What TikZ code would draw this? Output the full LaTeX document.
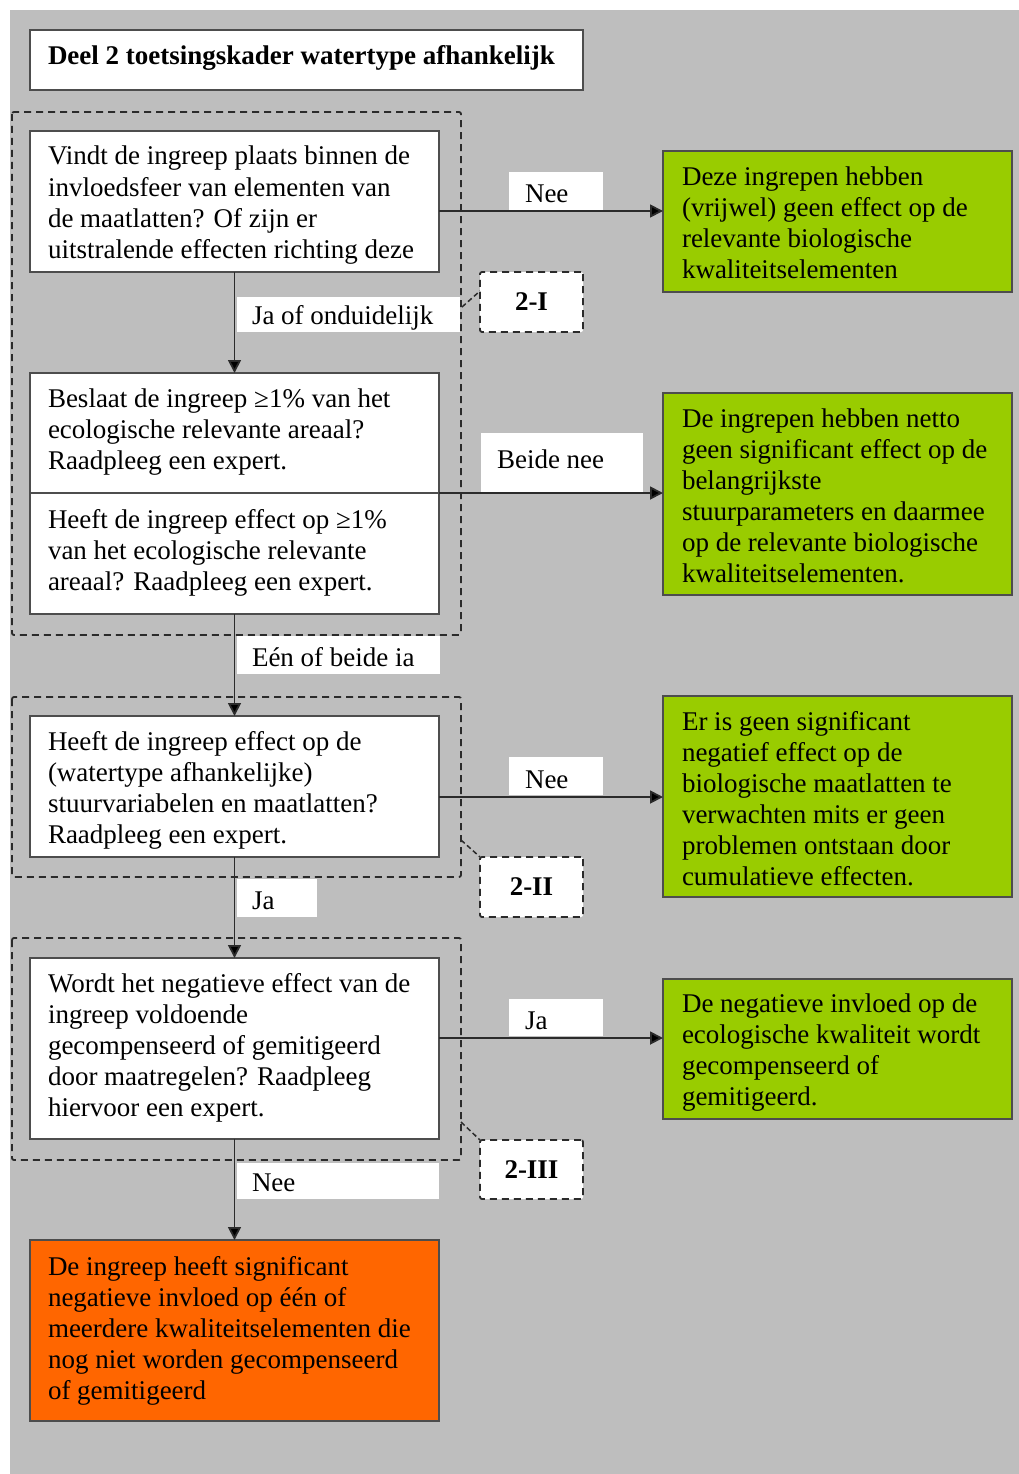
\documentclass[tikz,border=0pt]{standalone}
\usepackage{fontspec}
\setmainfont{Liberation Serif}
\usetikzlibrary{arrows.meta}
\definecolor{bggray}{HTML}{BEBEBE}
\definecolor{boxline}{HTML}{4D4D4D}
\definecolor{greenbox}{HTML}{99CC00}
\definecolor{orangebox}{HTML}{FF6600}
\definecolor{arrline}{HTML}{2B2B2B}
\newcommand{\firststrut}{\rule{0pt}{22pt}}
\begin{document}
\begin{tikzpicture}[x=1pt,y=-1pt,
  qbox/.style={draw=boxline,line width=1.8pt,fill=white,inner sep=0pt,outer sep=0pt,anchor=north west},
  gbox/.style={qbox,fill=greenbox},
  obox/.style={qbox,fill=orangebox},
  grp/.style={draw=arrline,line width=1.8pt,dash pattern=on 7pt off 5pt,rounded corners=2pt},
  lbl/.style={fill=white,inner sep=0pt,outer sep=0pt,anchor=north west},
  tag/.style={draw=arrline,line width=1.8pt,dash pattern=on 7pt off 5pt,fill=white,inner sep=0pt,outer sep=0pt,anchor=north west,rounded corners=2pt,font=\fontsize{27}{31}\selectfont\bfseries},
  txt/.style={anchor=north west,inner sep=0pt,outer sep=0pt,align=left,font=\fontsize{27}{31}\selectfont},
  arr/.style={draw=arrline,line width=1.8pt,-{Triangle[length=13pt,width=13pt,fill=black]}},
  call/.style={draw=arrline,line width=1.5pt,dash pattern=on 5pt off 3pt}
]
\useasboundingbox (0,0) rectangle (1019,1474);
\fill[bggray] (10,10) rectangle (1019,1474);

% title
\node[qbox,minimum width=553pt,minimum height=60pt] (title) at (30,30) {};
\node[txt,font=\fontsize{27}{31}\selectfont\bfseries] (titletxt) at (48,43) {\firststrut Deel 2 toetsingskader watertype afhankelijk};

% dashed groups
\draw[grp] (12,112) rectangle (461,635);
\draw[grp] (12,697) rectangle (461,877);
\draw[grp] (12,938) rectangle (461,1160);

% question boxes
\node[qbox,minimum width=409pt,minimum height=141pt] (A) at (30,131) {};
\node[qbox,minimum width=409pt,minimum height=120pt] (B1) at (30,373) {};
\node[qbox,minimum width=409pt,minimum height=121pt] (B2) at (30,493) {};
\node[qbox,minimum width=409pt,minimum height=141pt] (C) at (30,716) {};
\node[qbox,minimum width=409pt,minimum height=181pt] (D) at (30,958) {};
\node[obox,minimum width=409pt,minimum height=181pt] (E) at (30,1240) {};

% result boxes
\node[gbox,minimum width=349pt,minimum height=141pt] (G1) at (663,151) {};
\node[gbox,minimum width=349pt,minimum height=202pt] (G2) at (663,393) {};
\node[gbox,minimum width=349pt,minimum height=201pt] (G3) at (663,696) {};
\node[gbox,minimum width=349pt,minimum height=140pt] (G4) at (663,979) {};

% label backgrounds
\node[lbl,minimum width=94pt,minimum height=39pt] (L1) at (509,172) {};
\node[lbl,minimum width=223pt,minimum height=35pt] (L2) at (237,297) {};
\node[lbl,minimum width=162pt,minimum height=59pt] (L3) at (481,433) {};
\node[lbl,minimum width=203pt,minimum height=38pt] (L4) at (237,636) {};
\node[lbl,minimum width=94pt,minimum height=38pt] (L5) at (509,757) {};
\node[lbl,minimum width=80pt,minimum height=38pt] (L6) at (237,879) {};
\node[lbl,minimum width=94pt,minimum height=37pt] (L7) at (509,999) {};
\node[lbl,minimum width=202pt,minimum height=36pt] (L8) at (237,1163) {};

% tags
\node[tag,minimum width=103pt,minimum height=60pt] (T1) at (480,272) {2-I};
\node[tag,minimum width=103pt,minimum height=60pt] (T2) at (480,857) {2-II};
\node[tag,minimum width=103pt,minimum height=59pt] (T3) at (480,1140) {2-III};
\coordinate (c1) at (462,307);
\coordinate (c2) at (461,840);
\coordinate (c3) at (461,1122);
\draw[call] (c1) -- (T1.west |- 0,291);
\draw[call] (c2) -- (T2.north west);
\draw[call] (c3) -- (T3.north west);

% arrows
\draw[arr] (A.east |- 0,211) -- (G1.west |- 0,211);
\draw[arr] (A.south) -- (B1.north);
\draw[arr] (B1.south east) -- (G2.west |- B1.south);
\draw[arr] (B2.south) -- (C.north);
\draw[arr] (C.east |- 0,797) -- (G3.west |- 0,797);
\draw[arr] (C.south) -- (D.north);
\draw[arr] (D.east |- 0,1038) -- (G4.west |- 0,1038);
\draw[arr] (D.south) -- (E.north);

% texts
\node[txt] (Atxt) at (48,143) {\firststrut Vindt de ingreep plaats binnen de\\invloedsfeer van elementen van\\de maatlatten? Of zijn er\\uitstralende effecten richting deze};
\node[txt] (B1txt) at (48,385) {\firststrut Beslaat de ingreep ≥1\% van het\\ecologische relevante areaal?\\Raadpleeg een expert.};
\node[txt] (B2txt) at (48,506) {\firststrut Heeft de ingreep effect op ≥1\%\\van het ecologische relevante\\areaal? Raadpleeg een expert.};
\node[txt] (Ctxt) at (48,728) {\firststrut Heeft de ingreep effect op de\\(watertype afhankelijke)\\stuurvariabelen en maatlatten?\\Raadpleeg een expert.};
\node[txt] (Dtxt) at (48,970) {\firststrut Wordt het negatieve effect van de\\ingreep voldoende\\gecompenseerd of gemitigeerd\\door maatregelen? Raadpleeg\\hiervoor een expert.};
\node[txt] (Etxt) at (48,1253) {\firststrut De ingreep heeft significant\\negatieve invloed op één of\\meerdere kwaliteitselementen die\\nog niet worden gecompenseerd\\of gemitigeerd};

\node[txt] (G1txt) at (682,163) {\firststrut Deze ingrepen hebben\\(vrijwel) geen effect op de\\relevante biologische\\kwaliteitselementen};
\node[txt] (G2txt) at (682,405) {\firststrut De ingrepen hebben netto\\geen significant effect op de\\belangrijkste\\stuurparameters en daarmee\\op de relevante biologische\\kwaliteitselementen.};
\node[txt] (G3txt) at (682,708) {\firststrut Er is geen significant\\negatief effect op de\\biologische maatlatten te\\verwachten mits er geen\\problemen ontstaan door\\cumulatieve effecten.};
\node[txt] (G4txt) at (682,990) {\firststrut De negatieve invloed op de\\ecologische kwaliteit wordt\\gecompenseerd of\\gemitigeerd.};

\node[txt] (L1txt) at (525,181) {\firststrut Nee};
\node[txt] (L2txt) at (252,302) {\firststrut Ja of onduidelijk};
\node[txt] (L3txt) at (497,446) {\firststrut Beide nee};
\node[txt] (L4txt) at (252,644) {\firststrut Eén of beide ia};
\node[txt] (L5txt) at (525,766) {\firststrut Nee};
\node[txt] (L6txt) at (252,887) {\firststrut Ja};
\node[txt] (L7txt) at (525,1007) {\firststrut Ja};
\node[txt] (L8txt) at (252,1169) {\firststrut Nee};
\end{tikzpicture}
\end{document}
